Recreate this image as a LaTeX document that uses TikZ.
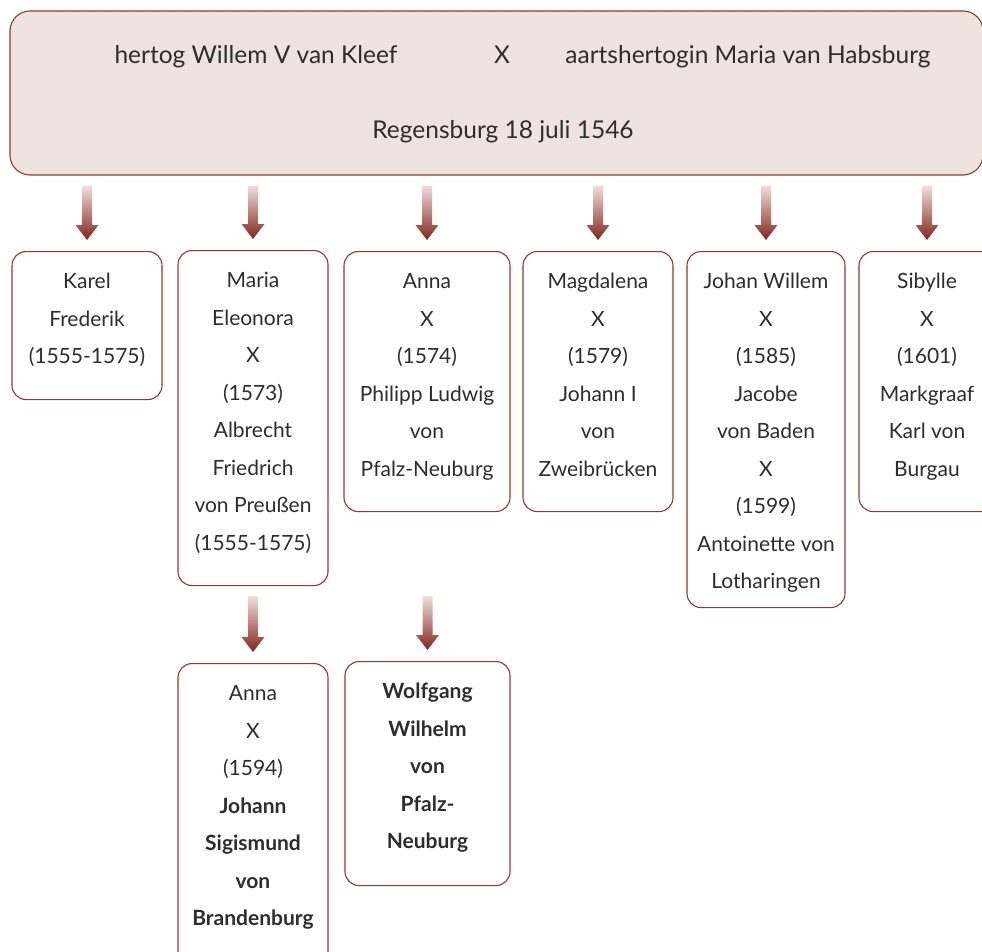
\documentclass[tikz,border=0pt]{standalone}
\usepackage{fontspec}
\setmainfont{Lato}
\usetikzlibrary{calc}
\definecolor{bordred}{RGB}{142,58,48}
\definecolor{topfill}{RGB}{239,227,223}
\definecolor{txtgray}{RGB}{45,45,45}
\definecolor{arrtop}{RGB}{240,222,222}
\definecolor{arrbot}{RGB}{130,38,28}
\tikzset{
  box/.style n args={2}{draw=bordred, line width=1.1pt, rounded corners=14pt, fill=white,
    align=center, text=txtgray, inner sep=0pt, anchor=north,
    text height=#1, text depth=#2,
    font={\fontsize{21}{37.5}\selectfont}},
  topbox/.style={draw=bordred, line width=1.1pt, rounded corners=20pt, fill=topfill},
  toptext/.style={text=txtgray, inner sep=0pt, anchor=base, font={\fontsize{24.5}{30}\selectfont}},
  arrowshape/.style={top color=arrtop, bottom color=arrbot, draw=none}
}
% #1 = start point (bottom of upper box), #2 = end point (top of lower box)
\newcommand\barrow[2]{%
  \path[arrowshape] let \p1=#1, \p2=#2 in
    (\x2-5pt,\y1-10pt) -- (\x2+5pt,\y1-10pt) -- (\x2+5pt,\y2+26pt) --
    (\x2+11.5pt,\y2+26pt) -- (\x2,\y2+11pt) -- (\x2-11.5pt,\y2+26pt) --
    (\x2-5pt,\y2+26pt) -- cycle;}
\begin{document}
\begin{tikzpicture}[x=1pt,y=-1pt]
\useasboundingbox (0,0) rectangle (982,952);
% top box
\node[topbox, minimum width=973pt, minimum height=164pt] (top) at (496.5,93) {};
\node[toptext] (h) at (256,64) {hertog Willem V van Kleef};
\node[toptext] (x) at (502,64) {X};
\node[toptext] (m) at (748,64) {aartshertogin Maria van Habsburg};
\node[toptext] (r) at (503,139) {Regensburg 18 juli 1546};
% children
\node[box={112pt}{36pt}, minimum width=150pt] (c1) at (87,251)
  {Karel\\Frederik\\(1555-1575)};
\node[box={299.5pt}{35.5pt}, minimum width=150pt] (c2) at (253,250)
  {Maria\\Eleonora\\X\\(1573)\\Albrecht\\Friedrich\\von Preußen\\(1555-1575)};
\node[box={224.5pt}{35.5pt}, minimum width=166pt] (c3) at (427,251)
  {Anna\\X\\(1574)\\Philipp Ludwig\\von\\Pfalz-Neuburg};
\node[box={224.5pt}{35.5pt}, minimum width=150pt] (c4) at (598,251)
  {Magdalena\\X\\(1579)\\Johann I\\von\\Zweibrücken};
\node[box={337pt}{19pt}, minimum width=158pt] (c5) at (766,251)
  {Johan Willem\\X\\(1585)\\Jacobe\\von Baden\\X\\(1599)\\Antoinette von\\Lotharingen};
\node[box={224.5pt}{35.5pt}, minimum width=136pt] (c6) at (927,251)
  {Sibylle\\X\\(1601)\\Markgraaf\\Karl von\\Burgau};
% grandchildren
\node[box={262pt}{50pt}, minimum width=150pt] (g1) at (253,663)
  {Anna\\X\\(1594)\\\textbf{Johann}\\\textbf{Sigismund}\\\textbf{von}\\\textbf{Brandenburg}};
\node[box={187pt}{37pt}, minimum width=165pt] (g2) at (427.5,661)
  {\textbf{Wolfgang}\\\textbf{Wilhelm}\\\textbf{von}\\\textbf{Pfalz-}\\\textbf{Neuburg}};
% arrows
\barrow{(top.south)}{(c1.north)}
\barrow{(top.south)}{(c2.north)}
\barrow{(top.south)}{(c3.north)}
\barrow{(top.south)}{(c4.north)}
\barrow{(top.south)}{(c5.north)}
\barrow{(top.south)}{(c6.north)}
\barrow{(c2.south)}{(g1.north)}
\barrow{(c3.south |- c2.south)}{(g2.north)}
\end{tikzpicture}
\end{document}
